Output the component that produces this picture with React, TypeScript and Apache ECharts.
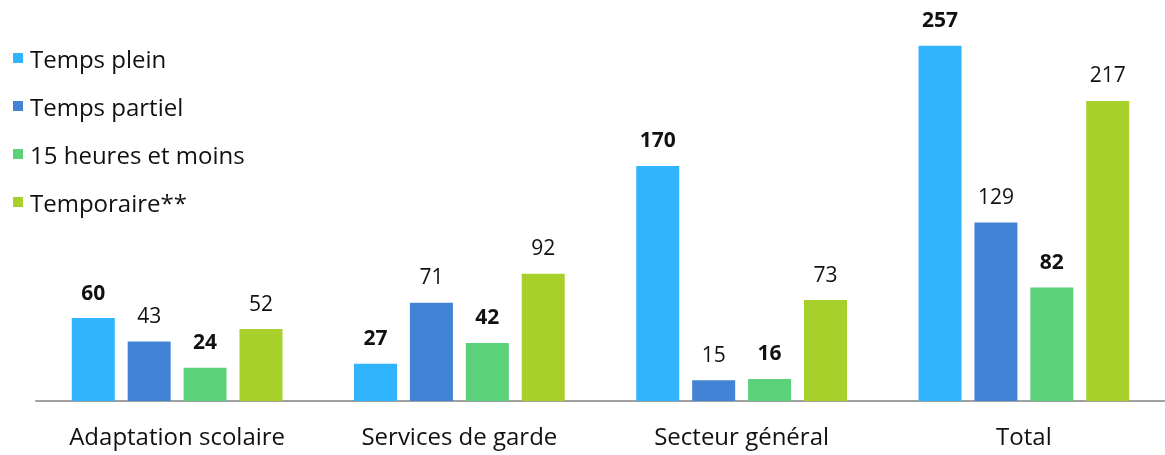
import React, { useEffect, useRef } from "react";
import * as echarts from "echarts";

const categories = ["Adaptation scolaire", "Services de garde", "Secteur général", "Total"];
const seriesNames = ["Temps plein", "Temps partiel", "15 heures et moins", "Temporaire**"];
const tempsPlein = [60, 27, 170, 257];
const tempsPartiel = [43, 71, 15, 129];
const quinzeHeures = [24, 42, 16, 82];
const temporaire = [52, 92, 73, 217];
const colors = ["#31B4FE", "#4283D5", "#5BD27A", "#A7D02B"];
const boldLabels = [true, false, true, false];

export default function App() {
  const ref = useRef<HTMLDivElement>(null);
  useEffect(() => {
    if (!ref.current) return;
    const chart = echarts.init(ref.current, null, { renderer: "svg" });
    const font = "'Open Sans', sans-serif";
    const data = [tempsPlein, tempsPartiel, quinzeHeures, temporaire];
    chart.setOption({
      animation: false,
      textStyle: { fontFamily: font },
      legend: {
        orient: "vertical",
        left: 8,
        top: 41,
        itemWidth: 10,
        itemHeight: 10,
        itemGap: 24,
        icon: "rect",
        textStyle: { fontSize: 24, color: "#111", fontFamily: font, lineHeight: 24, padding: [0, 0, 0, 2] },
        data: seriesNames,
      },
      grid: { left: 36, right: 0, top: 0, bottom: 54 },
      xAxis: {
        type: "category",
        data: categories,
        axisLine: { lineStyle: { color: "#a0a0a0", width: 2 } },
        axisTick: { show: false },
        axisLabel: { fontSize: 24, color: "#111", margin: 22, fontFamily: font },
      },
      yAxis: { type: "value", min: 0, max: 290, show: false, splitLine: { show: false } },
      series: seriesNames.map((name, i) => ({
        name,
        type: "bar",
        data: data[i],
        barWidth: 43,
        barGap: "30%",
        itemStyle: { color: colors[i] },
        label: {
          show: true,
          position: "top",
          distance: 16,
          fontSize: 21,
          color: "#111",
          fontFamily: font,
          fontWeight: boldLabels[i] ? "bold" : "normal",
        },
      })),
    });
    return () => chart.dispose();
  }, []);
  return <div ref={ref} style={{ position: "fixed", left: 0, top: 0, width: 1165, height: 455 }} />;
}
